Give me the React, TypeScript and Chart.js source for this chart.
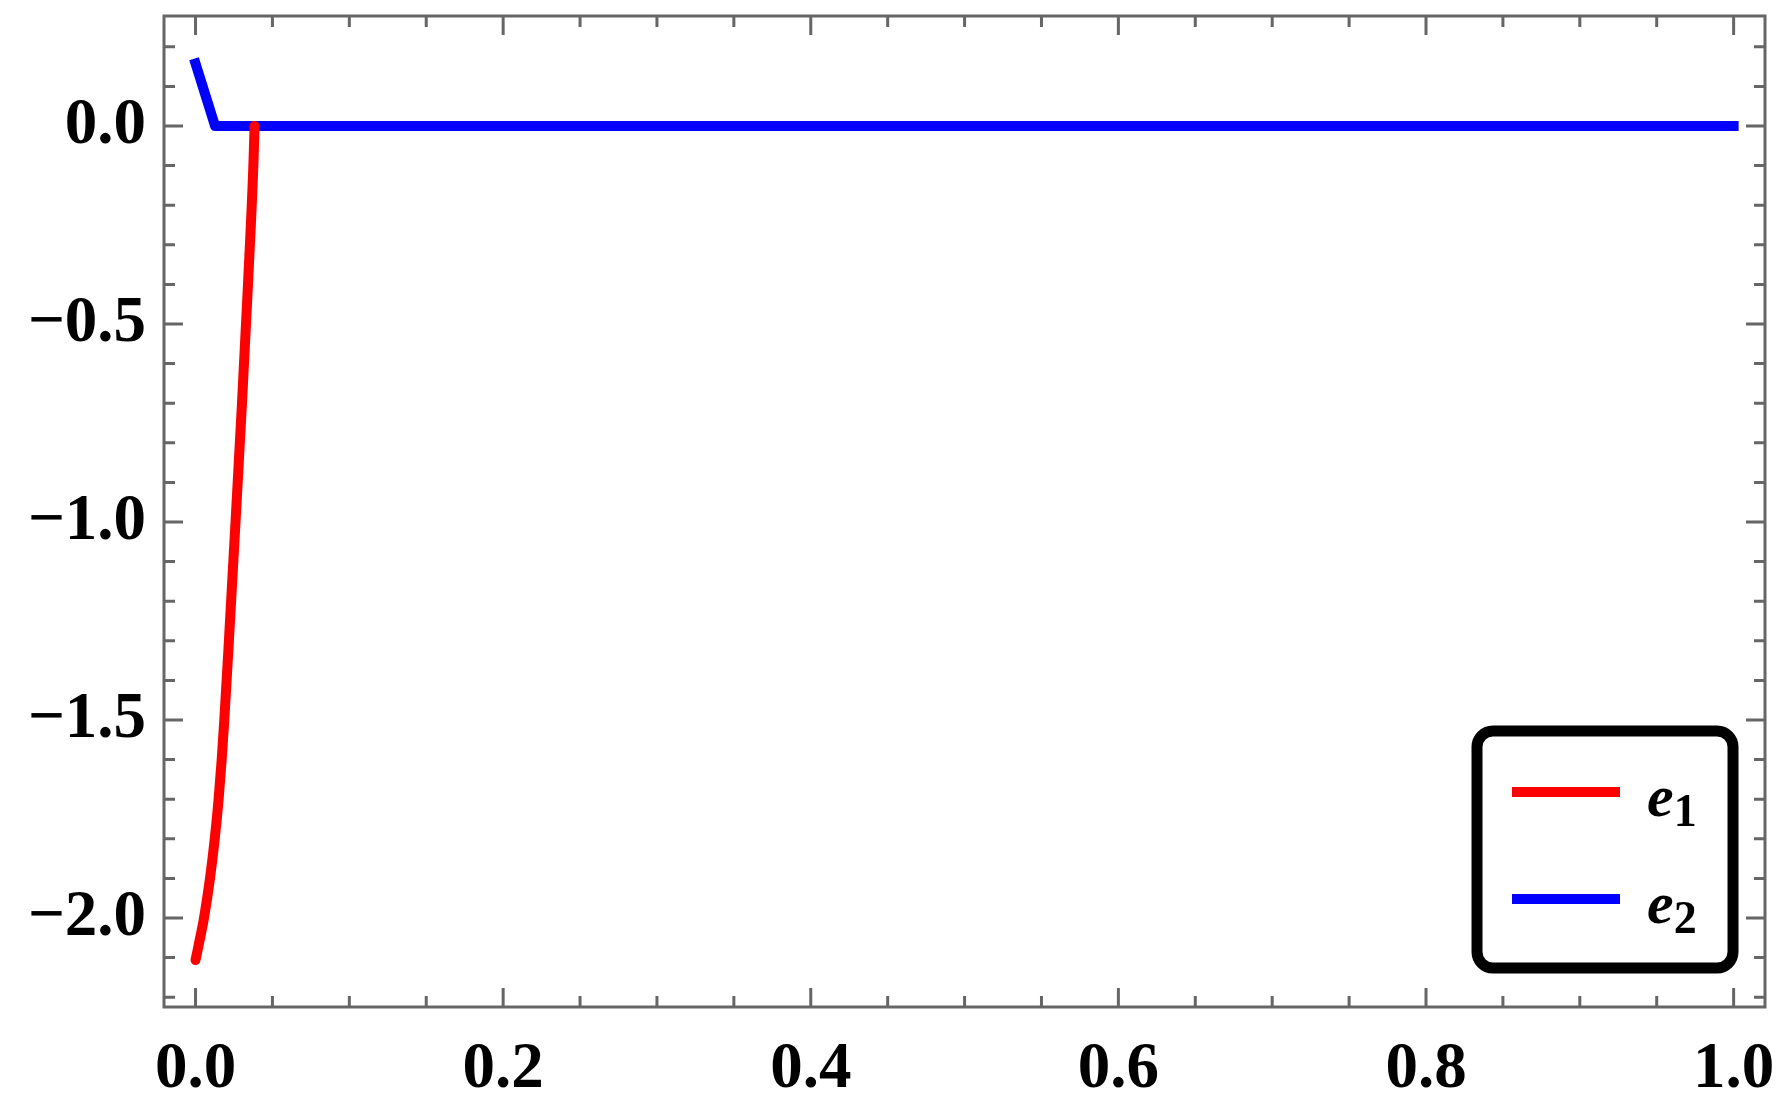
import React, { useEffect, useRef } from "react";
import { Chart, registerables } from "chart.js";

Chart.register(...registerables);

// ---- data ----
const e1X = [0, 0.003, 0.0055, 0.0094, 0.0125, 0.015, 0.017, 0.0187, 0.0217, 0.026, 0.0302, 0.0341, 0.0376, 0.0384];
const e1Y = [-2.106, -2.05, -2.0, -1.9, -1.8, -1.7, -1.6, -1.5, -1.3, -1.0, -0.7, -0.4, -0.1, 0];
const e2X = [0, 0.0127, 1.0];
const e2Y = [0.158, 0, 0];
const seriesNames = ["e1", "e2"];
const seriesSubscripts = ["1", "2"];
const seriesColors = ["#ff0000", "#0000ff"];

// ---- axes ----
const xMin = -0.0205;
const xMax = 1.0204;
const yMin = -2.2247;
const yMax = 0.2778;
const xMajorStep = 0.2;
const xMinorPerMajor = 4;
const yMajorStep = 0.5;
const yMinorPerMajor = 5;

const FRAME = "#666666";
const LABEL_FONT = "'Liberation Serif', 'DejaVu Serif', serif";

function fmt(v: number): string {
  const s = Math.abs(v).toFixed(1);
  return v < -1e-9 ? "\u2212" + s : s;
}

const frameTicksPlugin = {
  id: "frameTicks",
  afterDraw(chart: any) {
    const { ctx, chartArea } = chart;
    const xs = chart.scales.x;
    const ys = chart.scales.y;
    const { left, right, top, bottom } = chartArea;
    ctx.save();
    ctx.strokeStyle = FRAME;
    ctx.lineWidth = 3;
    ctx.lineCap = "butt";
    const majorLen = 19;
    const minorLen = 11;
    const xStep = xMajorStep / xMinorPerMajor;
    for (let i = Math.ceil(xMin / xStep - 1e-9); i * xStep <= xMax + 1e-9; i++) {
      const px = xs.getPixelForValue(i * xStep);
      const len = i % xMinorPerMajor === 0 ? majorLen : minorLen;
      ctx.beginPath();
      ctx.moveTo(px, bottom);
      ctx.lineTo(px, bottom - len);
      ctx.moveTo(px, top);
      ctx.lineTo(px, top + len);
      ctx.stroke();
    }
    const yStep = yMajorStep / yMinorPerMajor;
    for (let i = Math.ceil(yMin / yStep - 1e-9); i * yStep <= yMax + 1e-9; i++) {
      const py = ys.getPixelForValue(i * yStep);
      const len = i % yMinorPerMajor === 0 ? majorLen : minorLen;
      ctx.beginPath();
      ctx.moveTo(left, py);
      ctx.lineTo(left + len, py);
      ctx.moveTo(right, py);
      ctx.lineTo(right - len, py);
      ctx.stroke();
    }
    ctx.strokeRect(left, top, right - left, bottom - top);
    ctx.restore();
  },
};

const legendPlugin = {
  id: "mmaLegend",
  afterDraw(chart: any) {
    const { ctx, chartArea } = chart;
    const bx = chartArea.right - 288;
    const by = chartArea.bottom - 276;
    const bw = 256;
    const bh = 237;
    ctx.save();
    ctx.fillStyle = "#ffffff";
    ctx.strokeStyle = "#000000";
    ctx.lineWidth = 11;
    ctx.beginPath();
    (ctx as any).roundRect(bx, by, bw, bh, 16);
    ctx.fill();
    ctx.stroke();
    chart.data.datasets.forEach((ds: any, i: number) => {
      const cy = by + 61 + i * 107;
      ctx.strokeStyle = ds.borderColor;
      ctx.lineWidth = 10;
      ctx.lineCap = "butt";
      ctx.beginPath();
      ctx.moveTo(bx + 35, cy);
      ctx.lineTo(bx + 143, cy);
      ctx.stroke();
      ctx.fillStyle = "#000000";
      ctx.textBaseline = "alphabetic";
      ctx.textAlign = "left";
      ctx.font = `italic bold 60px ${LABEL_FONT}`;
      const tx = bx + 170;
      ctx.fillText("e", tx, cy + 24);
      const w = ctx.measureText("e").width;
      ctx.font = `bold 46px ${LABEL_FONT}`;
      ctx.fillText(seriesSubscripts[i], tx + w, cy + 34);
    });
    ctx.restore();
  },
};

function zeroPad(s: any) {
  s.paddingTop = 0;
  s.paddingBottom = 0;
  s.paddingLeft = 0;
  s.paddingRight = 0;
}

export default function App() {
  const ref = useRef<HTMLCanvasElement | null>(null);
  useEffect(() => {
    if (!ref.current) return;
    const chart = new Chart(ref.current, {
      type: "scatter",
      data: {
        datasets: [
          {
            label: seriesNames[0],
            data: e1X.map((x, i) => ({ x, y: e1Y[i] })),
            borderColor: seriesColors[0],
            backgroundColor: seriesColors[0],
            borderWidth: 10,
            showLine: true,
            pointRadius: 0,
            cubicInterpolationMode: "monotone",
            borderCapStyle: "round",
            borderJoinStyle: "round",
          } as any,
          {
            label: seriesNames[1],
            data: e2X.map((x, i) => ({ x, y: e2Y[i] })),
            borderColor: seriesColors[1],
            backgroundColor: seriesColors[1],
            borderWidth: 10,
            showLine: true,
            pointRadius: 0,
            tension: 0,
            borderCapStyle: "square",
            borderJoinStyle: "round",
          } as any,
        ],
      },
      options: {
        responsive: false,
        animation: false,
        devicePixelRatio: 1,
        layout: { padding: { top: 16, right: 18, left: 0, bottom: 0 } },
        plugins: { legend: { display: false }, tooltip: { enabled: false } },
        scales: {
          x: {
            type: "linear",
            min: xMin,
            max: xMax,
            grid: { display: false, drawTicks: false },
            border: { display: false },
            afterFit: (s: any) => {
              s.height = 88;
              zeroPad(s);
            },
            ticks: {
              stepSize: xMajorStep,
              includeBounds: false,
              padding: 24,
              maxRotation: 0,
              autoSkip: false,
              color: "#000",
              font: { family: LABEL_FONT, size: 65, weight: "bold" },
              callback: (v: any) => fmt(Number(v)),
            },
          },
          y: {
            type: "linear",
            min: yMin,
            max: yMax,
            grid: { display: false, drawTicks: false },
            border: { display: false },
            afterFit: (s: any) => {
              s.width = 164;
              zeroPad(s);
            },
            ticks: {
              stepSize: yMajorStep,
              includeBounds: false,
              autoSkip: false,
              padding: 18,
              color: "#000",
              font: { family: LABEL_FONT, size: 65, weight: "bold" },
              callback: (v: any) => fmt(Number(v)),
            },
          },
        },
      },
      plugins: [frameTicksPlugin, legendPlugin],
    });
    return () => chart.destroy();
  }, []);
  return (
    <div style={{ position: "fixed", left: 0, top: 0, width: 1783, height: 1095, background: "#fff" }}>
      <canvas ref={ref} width={1783} height={1095} />
    </div>
  );
}
